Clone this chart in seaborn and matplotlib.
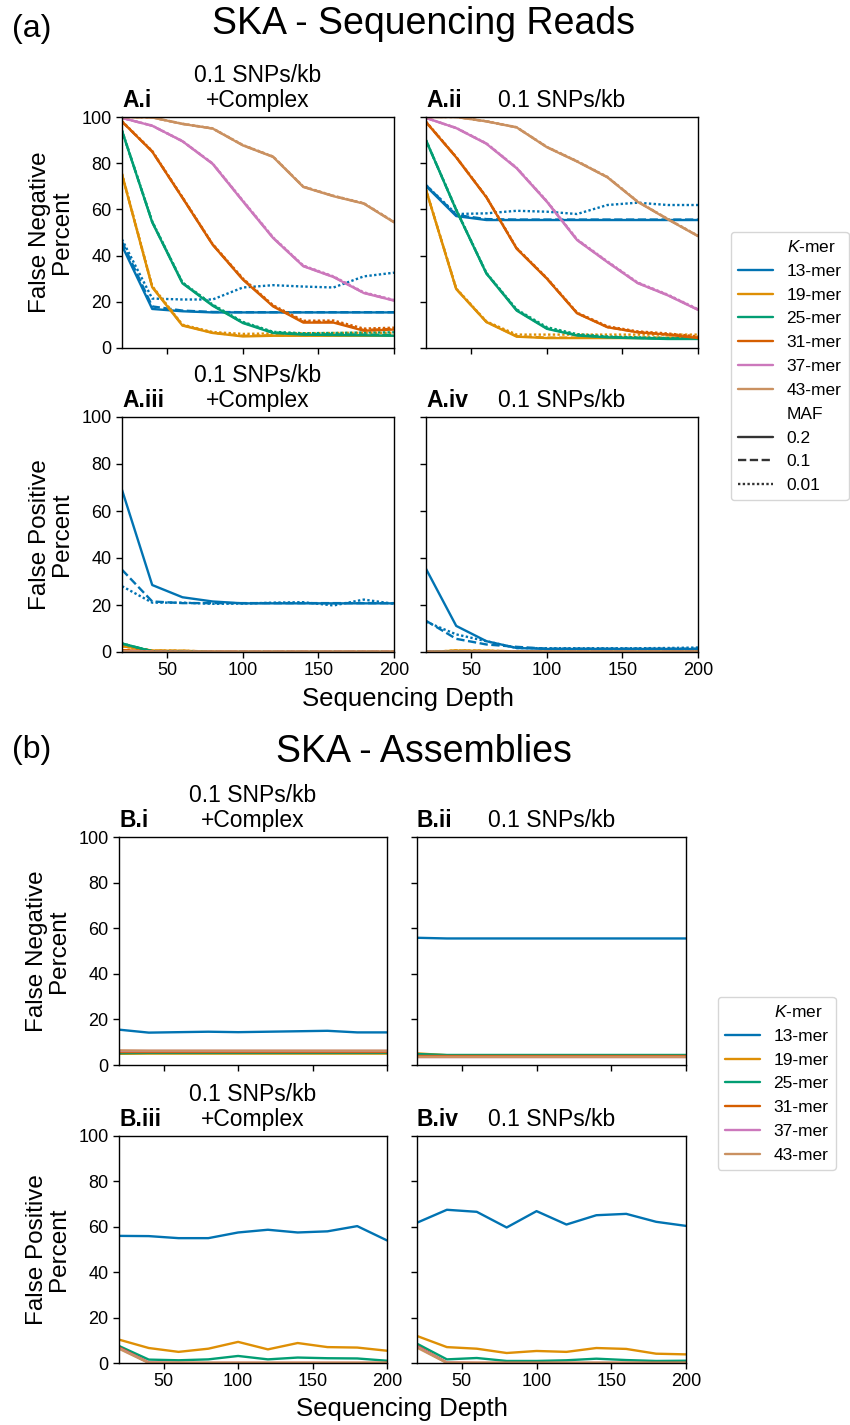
import matplotlib
matplotlib.use("Agg")
import matplotlib.pyplot as plt
from matplotlib.lines import Line2D
import pandas as pd
import seaborn as sns

# ---------------- data ----------------
depth = [20, 40, 60, 80, 100, 120, 140, 160, 180, 200]
kmers = ["13-mer", "19-mer", "25-mer", "31-mer", "37-mer", "43-mer"]
mafs = ["0.2", "0.1", "0.01"]
x_ticks = [50, 100, 150, 200]
y_ticks = [0, 20, 40, 60, 80, 100]

# A.i  False negative, sequencing reads, 0.1 SNPs/kb + Complex
ai_13_02 = [44.3, 16.9, 15.9, 15.4, 15.4, 15.4, 15.4, 15.4, 15.4, 15.4]
ai_13_01 = [46.0, 18.0, 16.2, 15.6, 15.5, 15.5, 15.5, 15.5, 15.5, 15.5]
ai_13_001 = [47.0, 21.4, 21.0, 21.0, 26.2, 27.2, 26.6, 26.2, 31.0, 32.6]
ai_19_02 = [75.0, 26.3, 9.7, 6.5, 5.0, 5.3, 5.3, 5.3, 5.3, 5.3]
ai_19_01 = [75.2, 26.5, 9.9, 6.6, 5.3, 5.5, 5.5, 5.5, 5.6, 5.6]
ai_19_001 = [75.5, 26.8, 10.1, 6.9, 6.1, 6.3, 6.4, 6.5, 6.6, 6.6]
ai_25_02 = [94.0, 54.4, 28.0, 18.3, 10.8, 6.5, 5.8, 5.6, 5.5, 5.3]
ai_25_01 = [94.0, 54.6, 28.2, 18.5, 11.0, 6.8, 6.0, 5.9, 5.8, 5.6]
ai_25_001 = [94.2, 54.8, 28.4, 18.8, 11.3, 7.0, 6.4, 6.5, 6.7, 6.8]
ai_31_02 = [98.0, 85.0, 65.0, 44.7, 29.6, 18.0, 11.0, 11.0, 7.5, 8.0]
ai_31_01 = [98.0, 85.1, 65.1, 44.8, 29.8, 18.2, 11.3, 11.3, 7.8, 8.3]
ai_31_001 = [98.2, 85.3, 65.3, 45.0, 30.1, 18.5, 11.8, 11.9, 8.4, 8.8]
ai_37_02 = [99.6, 96.2, 89.5, 79.7, 63.5, 47.6, 35.4, 30.7, 23.8, 20.5]
ai_37_01 = [99.6, 96.2, 89.5, 79.8, 63.6, 47.7, 35.5, 30.8, 23.9, 20.6]
ai_37_001 = [99.6, 96.3, 89.6, 79.9, 63.8, 47.9, 35.7, 31.0, 24.1, 20.8]
ai_43_02 = [100.0, 99.8, 97.0, 95.0, 87.7, 82.7, 69.7, 65.7, 62.5, 54.4]
ai_43_01 = [100.0, 99.8, 97.0, 95.0, 87.8, 82.8, 69.8, 65.8, 62.6, 54.5]
ai_43_001 = [100.0, 99.8, 97.1, 95.1, 87.9, 82.9, 69.9, 65.9, 62.7, 54.6]

# A.ii  False negative, sequencing reads, 0.1 SNPs/kb
aii_13_02 = [70.1, 57.1, 55.4, 55.4, 55.4, 55.4, 55.4, 55.4, 55.4, 55.4]
aii_13_01 = [70.5, 57.6, 55.8, 55.6, 55.6, 55.6, 55.6, 55.6, 55.6, 55.6]
aii_13_001 = [70.5, 58.0, 58.3, 59.4, 59.0, 58.0, 61.9, 62.9, 61.9, 61.9]
aii_19_02 = [68.4, 25.5, 11.2, 4.9, 4.3, 4.3, 4.3, 4.3, 4.3, 4.3]
aii_19_01 = [68.5, 25.6, 11.3, 5.1, 4.5, 4.5, 4.5, 4.5, 4.5, 4.5]
aii_19_001 = [68.6, 25.8, 11.5, 5.8, 5.8, 5.8, 5.8, 5.8, 5.8, 5.8]
aii_25_02 = [89.9, 59.7, 32.2, 16.2, 8.3, 5.4, 4.6, 4.2, 3.9, 3.9]
aii_25_01 = [89.9, 59.8, 32.3, 16.4, 8.5, 5.6, 4.8, 4.4, 4.1, 4.0]
aii_25_001 = [90.0, 60.0, 32.5, 16.7, 9.0, 6.0, 5.0, 4.6, 4.3, 4.2]
aii_31_02 = [97.8, 82.5, 65.2, 43.0, 30.0, 15.0, 9.0, 6.8, 5.8, 4.3]
aii_31_01 = [97.8, 82.6, 65.3, 43.1, 30.1, 15.1, 9.1, 6.9, 5.9, 4.5]
aii_31_001 = [98.0, 82.7, 65.4, 43.3, 30.3, 15.3, 9.4, 7.2, 6.3, 5.0]
aii_37_02 = [99.6, 95.2, 88.4, 77.8, 63.3, 46.7, 37.2, 28.1, 22.8, 16.5]
aii_37_01 = [99.6, 95.2, 88.5, 77.9, 63.4, 46.8, 37.3, 28.2, 22.9, 16.6]
aii_37_001 = [99.6, 95.3, 88.6, 78.0, 63.6, 47.0, 37.5, 28.4, 23.1, 16.8]
aii_43_02 = [100.0, 100.0, 98.1, 95.5, 86.9, 80.7, 73.9, 63.3, 55.7, 48.4]
aii_43_01 = [100.0, 100.0, 98.1, 95.5, 87.0, 80.8, 74.0, 63.4, 55.8, 48.5]
aii_43_001 = [100.0, 100.0, 98.2, 95.6, 87.1, 80.9, 74.1, 63.5, 55.9, 48.6]

# A.iii  False positive, sequencing reads, 0.1 SNPs/kb + Complex
aiii_13_02 = [69.0, 28.5, 23.3, 21.5, 20.7, 20.7, 20.7, 20.7, 20.7, 20.7]
aiii_13_01 = [35.0, 21.5, 20.8, 20.8, 20.8, 20.8, 20.8, 20.8, 20.8, 20.8]
aiii_13_001 = [28.0, 21.0, 21.0, 20.5, 20.6, 21.0, 21.2, 19.8, 22.3, 20.5]
aiii_19 = [2.5, 0.6, 0.5, 0.2, 0.1, 0.1, 0.1, 0.1, 0.1, 0.1]
aiii_25 = [3.6, 0.3, 0.1, 0.0, 0.0, 0.0, 0.0, 0.0, 0.0, 0.0]
aiii_31 = [0.8, 0.1, 0.0, 0.0, 0.0, 0.0, 0.0, 0.0, 0.0, 0.0]
aiii_37 = [0.3, 0.0, 0.0, 0.0, 0.0, 0.0, 0.0, 0.0, 0.0, 0.0]
aiii_43 = [0.2, 0.0, 0.0, 0.0, 0.0, 0.0, 0.0, 0.0, 0.0, 0.0]

# A.iv  False positive, sequencing reads, 0.1 SNPs/kb
aiv_13_02 = [35.4, 11.1, 4.6, 1.7, 1.3, 1.3, 1.3, 1.3, 1.3, 1.3]
aiv_13_01 = [13.3, 5.6, 3.2, 2.2, 1.4, 1.4, 1.4, 1.4, 1.4, 1.4]
aiv_13_001 = [12.9, 7.5, 4.6, 1.7, 1.6, 1.6, 1.6, 1.6, 1.7, 1.9]
aiv_19 = [0.0, 0.6, 0.5, 0.3, 0.2, 0.2, 0.2, 0.2, 0.2, 0.2]
aiv_25 = [0.1, 0.1, 0.0, 0.0, 0.0, 0.0, 0.0, 0.0, 0.0, 0.0]
aiv_31 = [0.0, 0.0, 0.0, 0.0, 0.0, 0.0, 0.0, 0.0, 0.0, 0.0]
aiv_37 = [0.0, 0.0, 0.0, 0.0, 0.0, 0.0, 0.0, 0.0, 0.0, 0.0]
aiv_43 = [0.0, 0.0, 0.0, 0.0, 0.0, 0.0, 0.0, 0.0, 0.0, 0.0]

# B.i  False negative, assemblies, 0.1 SNPs/kb + Complex
bi_13 = [15.5, 14.2, 14.4, 14.6, 14.4, 14.6, 14.8, 15.0, 14.3, 14.3]
bi_19 = [4.9, 5.0, 5.0, 5.0, 5.0, 5.0, 5.0, 5.0, 5.0, 5.0]
bi_25 = [5.2, 5.3, 5.3, 5.3, 5.3, 5.3, 5.3, 5.3, 5.3, 5.3]
bi_31 = [5.6, 5.6, 5.6, 5.6, 5.6, 5.6, 5.6, 5.6, 5.6, 5.6]
bi_37 = [6.0, 6.0, 6.0, 6.0, 6.0, 6.0, 6.0, 6.0, 6.0, 6.0]
bi_43 = [6.4, 6.3, 6.3, 6.3, 6.3, 6.3, 6.3, 6.3, 6.3, 6.3]

# B.ii  False negative, assemblies, 0.1 SNPs/kb
bii_13 = [55.8, 55.5, 55.5, 55.5, 55.5, 55.5, 55.5, 55.5, 55.5, 55.5]
bii_19 = [5.1, 4.3, 4.3, 4.3, 4.3, 4.3, 4.3, 4.3, 4.3, 4.3]
bii_25 = [4.8, 4.4, 4.4, 4.4, 4.4, 4.4, 4.4, 4.4, 4.4, 4.4]
bii_31 = [3.8, 3.8, 3.8, 3.8, 3.8, 3.8, 3.8, 3.8, 3.8, 3.8]
bii_37 = [3.6, 3.6, 3.6, 3.6, 3.6, 3.6, 3.6, 3.6, 3.6, 3.6]
bii_43 = [3.4, 3.4, 3.4, 3.4, 3.4, 3.4, 3.4, 3.4, 3.4, 3.4]

# B.iii  False positive, assemblies, 0.1 SNPs/kb + Complex
biii_13 = [56.0, 55.9, 55.0, 55.0, 57.5, 58.7, 57.5, 58.0, 60.3, 54.0]
biii_19 = [10.3, 6.6, 4.9, 6.3, 9.3, 6.0, 8.8, 7.0, 6.8, 5.4]
biii_25 = [7.5, 1.5, 1.2, 1.6, 3.1, 1.6, 2.4, 2.1, 2.0, 1.0]
biii_31 = [6.9, 0.2, 0.1, 0.1, 0.1, 0.1, 0.1, 0.1, 0.1, 0.1]
biii_37 = [6.6, 0.1, 0.0, 0.0, 0.0, 0.0, 0.0, 0.0, 0.0, 0.0]
biii_43 = [6.3, 0.0, 0.0, 0.0, 0.0, 0.0, 0.0, 0.0, 0.0, 0.0]

# B.iv  False positive, assemblies, 0.1 SNPs/kb
biv_13 = [61.8, 67.5, 66.6, 59.7, 66.9, 61.0, 65.1, 65.7, 62.2, 60.4]
biv_19 = [11.9, 7.0, 6.3, 4.4, 5.3, 4.9, 6.6, 6.2, 4.1, 3.8]
biv_25 = [8.5, 1.6, 2.2, 0.9, 0.9, 1.2, 1.9, 1.3, 0.9, 1.0]
biv_31 = [7.5, 0.2, 0.1, 0.1, 0.1, 0.1, 0.1, 0.1, 0.1, 0.1]
biv_37 = [7.2, 0.1, 0.0, 0.0, 0.0, 0.0, 0.0, 0.0, 0.0, 0.0]
biv_43 = [6.8, 0.0, 0.0, 0.0, 0.0, 0.0, 0.0, 0.0, 0.0, 0.0]

# ---------------- style ----------------
sns.set_style("ticks")
plt.rcParams["font.family"] = ["Liberation Sans", "DejaVu Sans"]
plt.rcParams["mathtext.fontset"] = "custom"
plt.rcParams["mathtext.rm"] = "Liberation Sans"
plt.rcParams["mathtext.it"] = "Liberation Sans:italic"
plt.rcParams["axes.edgecolor"] = "black"
plt.rcParams["axes.linewidth"] = 1.0
plt.rcParams["xtick.color"] = "black"
plt.rcParams["ytick.color"] = "black"
plt.rcParams["text.color"] = "black"
plt.rcParams["axes.labelcolor"] = "black"

palette = dict(zip(kmers, sns.color_palette("colorblind", 6)))
dash_map = {"0.2": "", "0.1": (3.5, 1.5), "0.01": (1, 1)}
LW = 1.7


def reads_df(series):
    rows = []
    for (k, m), vals in series.items():
        for d, v in zip(depth, vals):
            rows.append((d, v, k, m))
    return pd.DataFrame(rows, columns=["Sequencing Depth", "Percent", "K-mer", "MAF"])


def asm_df(series):
    rows = []
    for k, vals in series.items():
        for d, v in zip(depth, vals):
            rows.append((d, v, k))
    return pd.DataFrame(rows, columns=["Sequencing Depth", "Percent", "K-mer"])


panel_ai = reads_df({
    ("13-mer", "0.2"): ai_13_02, ("13-mer", "0.1"): ai_13_01, ("13-mer", "0.01"): ai_13_001,
    ("19-mer", "0.2"): ai_19_02, ("19-mer", "0.1"): ai_19_01, ("19-mer", "0.01"): ai_19_001,
    ("25-mer", "0.2"): ai_25_02, ("25-mer", "0.1"): ai_25_01, ("25-mer", "0.01"): ai_25_001,
    ("31-mer", "0.2"): ai_31_02, ("31-mer", "0.1"): ai_31_01, ("31-mer", "0.01"): ai_31_001,
    ("37-mer", "0.2"): ai_37_02, ("37-mer", "0.1"): ai_37_01, ("37-mer", "0.01"): ai_37_001,
    ("43-mer", "0.2"): ai_43_02, ("43-mer", "0.1"): ai_43_01, ("43-mer", "0.01"): ai_43_001,
})
panel_aii = reads_df({
    ("13-mer", "0.2"): aii_13_02, ("13-mer", "0.1"): aii_13_01, ("13-mer", "0.01"): aii_13_001,
    ("19-mer", "0.2"): aii_19_02, ("19-mer", "0.1"): aii_19_01, ("19-mer", "0.01"): aii_19_001,
    ("25-mer", "0.2"): aii_25_02, ("25-mer", "0.1"): aii_25_01, ("25-mer", "0.01"): aii_25_001,
    ("31-mer", "0.2"): aii_31_02, ("31-mer", "0.1"): aii_31_01, ("31-mer", "0.01"): aii_31_001,
    ("37-mer", "0.2"): aii_37_02, ("37-mer", "0.1"): aii_37_01, ("37-mer", "0.01"): aii_37_001,
    ("43-mer", "0.2"): aii_43_02, ("43-mer", "0.1"): aii_43_01, ("43-mer", "0.01"): aii_43_001,
})
fp_iii = {"19-mer": aiii_19, "25-mer": aiii_25, "31-mer": aiii_31, "37-mer": aiii_37, "43-mer": aiii_43}
ser_iii = {("13-mer", "0.2"): aiii_13_02, ("13-mer", "0.1"): aiii_13_01, ("13-mer", "0.01"): aiii_13_001}
for k, v in fp_iii.items():
    for m in mafs:
        ser_iii[(k, m)] = v
panel_aiii = reads_df(ser_iii)
fp_iv = {"19-mer": aiv_19, "25-mer": aiv_25, "31-mer": aiv_31, "37-mer": aiv_37, "43-mer": aiv_43}
ser_iv = {("13-mer", "0.2"): aiv_13_02, ("13-mer", "0.1"): aiv_13_01, ("13-mer", "0.01"): aiv_13_001}
for k, v in fp_iv.items():
    for m in mafs:
        ser_iv[(k, m)] = v
panel_aiv = reads_df(ser_iv)

panel_bi = asm_df(dict(zip(kmers, [bi_13, bi_19, bi_25, bi_31, bi_37, bi_43])))
panel_bii = asm_df(dict(zip(kmers, [bii_13, bii_19, bii_25, bii_31, bii_37, bii_43])))
panel_biii = asm_df(dict(zip(kmers, [biii_13, biii_19, biii_25, biii_31, biii_37, biii_43])))
panel_biv = asm_df(dict(zip(kmers, [biv_13, biv_19, biv_25, biv_31, biv_37, biv_43])))

# ---------------- figure ----------------
W, H = 850, 1425
fig = plt.figure(figsize=(W / 100, H / 100), dpi=100)


def rect(l, t, r, b):
    return [l / W, 1 - b / H, (r - l) / W, (b - t) / H]


def style_axes(ax, tag, subtitle, left, bottom):
    ax.set_xlim(20, 200)
    ax.set_ylim(0, 100)
    ax.set_xticks(x_ticks)
    ax.set_yticks(y_ticks)
    ax.tick_params(labelsize=13, length=4, width=1, direction="out")
    ax.set_xlabel("")
    ax.set_ylabel("")
    for s in ax.spines.values():
        s.set_visible(True)
        s.set_color("black")
        s.set_linewidth(1.0)
    if not left:
        ax.tick_params(labelleft=False)
    if not bottom:
        ax.tick_params(labelbottom=False)
    ax.set_title(subtitle, fontsize=16.5, linespacing=1.1, pad=7)
    ax.set_title(tag, loc="left", fontsize=16.5, fontweight="bold", pad=7)


def draw_reads(ax, df):
    sns.lineplot(data=df, x="Sequencing Depth", y="Percent", hue="K-mer", style="MAF",
                 hue_order=kmers, style_order=mafs, palette=palette, dashes=dash_map,
                 linewidth=LW, errorbar=None, legend=False, ax=ax)


def draw_asm(ax, df):
    sns.lineplot(data=df, x="Sequencing Depth", y="Percent", hue="K-mer",
                 hue_order=kmers, palette=palette, linewidth=LW, errorbar=None,
                 legend=False, ax=ax)


sub_c = "0.1 SNPs/kb\n+Complex"
sub_s = "0.1 SNPs/kb"
ylab_fn = "False Negative\nPercent"
ylab_fp = "False Positive\nPercent"

# Part A
ax_ai = fig.add_axes(rect(122, 117, 394, 348))
ax_aii = fig.add_axes(rect(426, 117, 698, 348))
ax_aiii = fig.add_axes(rect(122, 417, 394, 652))
ax_aiv = fig.add_axes(rect(426, 417, 698, 652))
draw_reads(ax_ai, panel_ai)
draw_reads(ax_aii, panel_aii)
draw_reads(ax_aiii, panel_aiii)
draw_reads(ax_aiv, panel_aiv)
style_axes(ax_ai, "A.i", sub_c, True, False)
style_axes(ax_aii, "A.ii", sub_s, False, False)
style_axes(ax_aiii, "A.iii", sub_c, True, True)
style_axes(ax_aiv, "A.iv", sub_s, False, True)

# Part B
ax_bi = fig.add_axes(rect(119, 837, 387, 1065))
ax_bii = fig.add_axes(rect(417, 837, 686, 1065))
ax_biii = fig.add_axes(rect(119, 1136, 387, 1363))
ax_biv = fig.add_axes(rect(417, 1136, 686, 1363))
draw_asm(ax_bi, panel_bi)
draw_asm(ax_bii, panel_bii)
draw_asm(ax_biii, panel_biii)
draw_asm(ax_biv, panel_biv)
style_axes(ax_bi, "B.i", sub_c, True, False)
style_axes(ax_bii, "B.ii", sub_s, False, False)
style_axes(ax_biii, "B.iii", sub_c, True, True)
style_axes(ax_biv, "B.iv", sub_s, False, True)

for ax, lab in [(ax_ai, ylab_fn), (ax_aiii, ylab_fp), (ax_bi, ylab_fn), (ax_biii, ylab_fp)]:
    ax.set_ylabel(lab, fontsize=17.5, linespacing=1.0, labelpad=6)

# headers and shared x labels
fig.text(12 / W, 1 - 37 / H, "(a)", fontsize=23, va="baseline", ha="left")
fig.text(424 / W, 1 - 34 / H, "SKA - Sequencing Reads", fontsize=27, va="baseline", ha="center")
fig.text(408 / W, 1 - 699 / H, "Sequencing Depth", fontsize=18.5, va="center", ha="center")
fig.text(12 / W, 1 - 758 / H, "(b)", fontsize=23, va="baseline", ha="left")
fig.text(424 / W, 1 - 762 / H, "SKA - Assemblies", fontsize=27, va="baseline", ha="center")
fig.text(402 / W, 1 - 1409 / H, "Sequencing Depth", fontsize=18.5, va="center", ha="center")

# legends
blank = Line2D([], [], color="none")
kmer_handles = [Line2D([], [], color=palette[k], lw=LW) for k in kmers]
maf_handles = [Line2D([], [], color=".2", lw=LW, linestyle="-"),
               Line2D([], [], color=".2", lw=LW, linestyle=(0, dash_map["0.1"])),
               Line2D([], [], color=".2", lw=LW, linestyle=(0, dash_map["0.01"]))]
k_title = r"$\mathit{K}$-mer"

handles_a = [blank] + kmer_handles + [blank] + maf_handles
labels_a = [k_title] + kmers + ["MAF"] + mafs
fig.legend(handles_a, labels_a, loc="upper left", bbox_to_anchor=(731 / W, 1 - 232 / H),
           borderaxespad=0, fontsize=12.5, handlelength=2.0, labelspacing=0.5,
           handletextpad=0.8, frameon=True)

handles_b = [blank] + kmer_handles
labels_b = [k_title] + kmers
fig.legend(handles_b, labels_b, loc="upper left", bbox_to_anchor=(718 / W, 1 - 997 / H),
           borderaxespad=0, fontsize=12.5, handlelength=2.0, labelspacing=0.5,
           handletextpad=0.8, frameon=True)

fig.savefig("out.png", dpi=100)
